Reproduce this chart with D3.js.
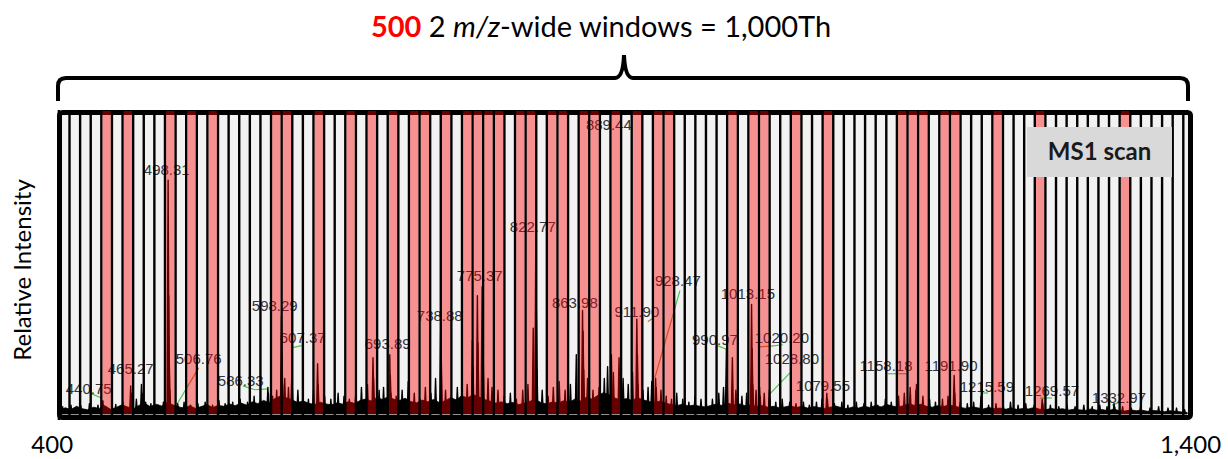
<!DOCTYPE html>
<html>
<head>
<meta charset="utf-8">
<script src="https://cdn.jsdelivr.net/npm/d3@7"></script>
<style>
  body { margin: 0; background: #fff; }
  svg { display: block; }
</style>
</head>
<body>
<div id="chart"></div>
<script>
// ---- data ----
// x axis ticks (m/z)
var tickValues = [400, 1400];

// isolation windows drawn as stripes; these ones are highlighted red
var windowCount = 106;
var redWindows = [4, 6, 10, 12, 14, 20, 21, 24, 27, 29, 31, 33, 34, 36, 38, 39, 40, 41, 43, 44,
  46, 47, 49, 50, 52, 54, 56, 57, 63, 65, 66, 69, 72, 79, 80, 81, 83, 84, 88, 92, 100];

// baseline noise, relative intensity (%) every 5 m/z starting at 402.5
var noise = [
  1.2, 2.1, 1.5, 2.6, 1.8, 1.4, 2.3, 1.9, 2.8, 1.6, 2.2, 3.1, 2.4, 1.7, 2.9, 3.6, 2.5, 3.3, 2.7, 3.9,
  3.1, 2.4, 2.0, 2.8, 1.9, 2.5, 3.2, 2.2, 2.9, 2.6, 3.4, 2.8, 3.7, 3.0, 4.1, 3.5, 4.6, 3.8, 5.2, 6.1,
  5.5, 4.8, 3.9, 4.4, 3.6, 3.2, 4.0, 3.4, 3.1, 3.8, 3.3, 4.2, 3.6, 4.5, 5.1, 4.4, 5.6, 4.9, 5.8, 5.0,
  4.6, 5.3, 4.2, 3.8, 4.7, 4.1, 4.9, 3.9, 4.4, 5.5, 4.8, 6.2, 5.4, 6.6, 5.8, 4.9, 4.3, 3.7, 4.1, 3.5,
  3.9, 3.2, 3.6, 4.3, 4.9, 3.8, 3.4, 4.1, 3.7, 4.5, 4.0, 5.1, 4.4, 5.7, 5.0, 6.3, 7.2, 6.5, 5.4, 4.7,
  5.2, 4.6, 5.5, 4.8, 4.2, 3.9, 4.4, 3.6, 3.2, 2.9, 3.3, 2.7, 3.0, 2.6, 2.4, 2.9, 3.4, 2.8, 3.6, 3.1,
  3.4, 2.8, 3.1, 2.5, 2.9, 2.3, 2.6, 2.1, 2.4, 2.8, 2.2, 2.6, 2.0, 2.5, 2.2, 1.9, 2.3, 2.7, 2.1, 1.8,
  2.4, 2.0, 2.6, 2.2, 2.9, 2.4, 3.2, 2.7, 2.3, 2.9, 3.5, 2.8, 3.3, 2.6, 2.3, 2.8, 2.5, 3.1, 2.6, 2.2,
  1.9, 2.4, 2.1, 1.7, 2.2, 1.8, 2.0, 1.6, 2.1, 1.5, 1.9, 1.7, 2.2, 1.6, 1.4, 1.9, 1.5, 1.8, 1.3, 1.6,
  1.4, 1.2, 1.7, 1.3, 1.5, 1.1, 1.6, 1.2, 1.0, 1.4, 1.1, 1.3, 0.9, 1.2, 1.0, 0.8, 1.1, 0.9, 0.7, 0.5
];

// centroid peaks: m/z and relative intensity (%)
var peakMz = [
  405.2, 412.6, 421.3, 428.9, 436.4, 440.75, 441.3, 452.1, 458.4, 465.27, 465.77, 466.27, 470.3, 474.8, 475.3,
  478.5, 483.1, 489.6, 494.2, 498.31, 498.81, 499.31, 499.8, 506.76, 507.3, 512.4, 518.2, 524.6, 531.0, 537.5,
  543.2, 548.6, 555.3, 561.9, 568.4, 574.2, 579.8, 586.33, 586.83, 590.5, 594.1, 598.29, 598.79, 599.29, 601.2,
  604.5, 607.37, 607.87, 612.8, 617.3, 622.1, 626.6, 630.2, 630.7, 636.4, 641.9, 648.3, 653.5, 658.2, 663.7,
  668.9, 674.2, 679.1, 679.6, 684.5, 688.4, 693.89, 694.39, 694.89, 699.6, 704.8, 710.2, 715.5, 720.6, 725.3,
  730.2, 734.3, 738.88, 739.38, 743.1, 748.2, 753.5, 757.4, 762.2, 766.8, 767.3, 771.2, 771.7, 775.37, 775.87,
  776.37, 780.6, 784.1, 789.4, 794.8, 800.3, 805.6, 811.2, 815.8, 820.5, 822.77, 823.27, 823.77, 828.4, 833.6,
  838.2, 843.4, 848.6, 853.3, 858.5, 863.98, 864.48, 864.98, 868.4, 873.2, 878.6, 883.2, 886.1, 889.44, 891.2,
  896.2, 899.8, 904.3, 908.1, 911.90, 912.4, 912.9, 917.3, 921.8, 925.1, 928.47, 928.97, 933.2, 937.8, 942.5,
  947.1, 952.4, 957.8, 963.2, 968.5, 973.1, 978.6, 984.2, 988.4, 990.97, 991.47, 996.2, 999.3, 1004.6, 1008.8,
  1013.15, 1013.65, 1014.15, 1017.1, 1020.20, 1020.7, 1024.3, 1028.80, 1029.3, 1034.5, 1040.2, 1046.8, 1052.3, 1058.9, 1064.1,
  1070.4, 1075.3, 1079.55, 1080.05, 1086.2, 1092.8, 1098.1, 1105.6, 1112.3, 1118.7, 1124.5, 1131.2, 1136.4, 1142.8, 1147.9,
  1153.1, 1158.18, 1158.68, 1164.3, 1170.2, 1175.4, 1181.6, 1186.5, 1191.90, 1192.4, 1197.3, 1203.5, 1209.1, 1215.59, 1216.09,
  1222.3, 1228.8, 1235.2, 1241.6, 1248.3, 1255.1, 1262.4, 1269.57, 1270.07, 1276.8, 1284.2, 1291.5, 1298.6, 1306.3, 1313.7,
  1320.4, 1326.8, 1332.97, 1333.47, 1340.5, 1348.2, 1356.4, 1364.7, 1372.3, 1380.6, 1388.1, 1395.2
];
var peakInt = [
  2.5, 3, 2.8, 3.5, 3, 4.5, 3, 3.2, 4, 9.5, 7, 4, 5, 10, 7,
  4, 3.5, 3, 4, 79, 40, 18, 8, 3.5, 2.5, 4, 3, 3.5, 4, 3,
  4.5, 3.5, 4, 5, 4, 6, 5, 9, 7, 6, 8, 33, 20, 10, 12,
  9, 12, 9, 8, 6, 5, 8, 17, 10, 6, 5, 7, 6, 5, 6,
  9, 10, 19, 12, 8, 9, 20, 13, 7, 6, 8, 11, 7, 5, 9,
  7, 12, 30, 18, 8, 6, 9, 7, 10, 25, 16, 40, 24, 43, 30,
  18, 12, 9, 8, 6, 7, 5, 8, 10, 29, 60, 35, 15, 8, 6,
  9, 11, 8, 10, 20, 35, 28, 15, 12, 8, 9, 12, 16, 20, 14,
  19, 12, 10, 14, 32, 20, 10, 8, 9, 11, 12, 9, 8, 6, 5,
  7, 5, 4, 6, 5, 4, 5, 7, 9, 22, 13, 19, 8, 6, 7,
  37, 22, 10, 8, 9, 6, 7, 8, 5, 4, 5, 4, 3.5, 4, 3,
  4, 5, 7, 5, 3.5, 4, 3, 4, 3.5, 4, 3, 5, 4, 6, 7,
  9, 8, 10, 6, 5, 4, 5, 6, 13, 7, 4, 3.5, 4, 6, 4,
  3, 3.5, 3, 4, 3, 3.5, 3, 5, 3.5, 3, 2.5, 3, 2.5, 3, 2.5,
  3, 2.5, 3.5, 2.5, 2.5, 2, 2.5, 2, 2.5, 2, 2, 1.5
];

// peak annotations and where their text sits (m/z, intensity %)
var labelText = ["440.75", "465.27", "498.31", "506.76", "586.33", "598.29", "607.37", "693.89", "738.88",
  "775.37", "822.77", "863.98", "889.44", "911.90", "928.47", "990.97", "1013.15", "1020.20", "1028.80",
  "1079.55", "1158.18", "1191.90", "1215.59", "1269.57", "1332.97"];
var labelMz = [428.2, 465.3, 497.1, 525.3, 562.4, 592.4, 617.1, 692.1, 738.0,
  773.3, 820.1, 857.2, 887.2, 911.9, 948.1, 980.8, 1009.9, 1039.9, 1048.7,
  1076.1, 1131.7, 1189.1, 1220.8, 1278.2, 1337.3];
var labelInt = [6.8, 13.6, 80.7, 16.9, 9.5, 34.9, 24.1, 22, 31.5,
  45.1, 61.4, 35.9, 95.9, 32.9, 43.1, 23.4, 39, 24.1, 16.9,
  7.8, 14.6, 14.6, 7.5, 6.1, 3.7];

// leader lines: [mz1, int1, mz2, int2, kind]
var leaders = [
  [430.9, 6.8, 439.7, 5.4, "g"],
  [525.3, 15.6, 517.4, 10.5, "o"],
  [517.4, 10.5, 506.8, 3.7, "g"],
  [564.2, 9.5, 575.0, 8.2, "g"],
  [575.0, 8.2, 586.2, 8.5, "g"],
  [608.3, 22.4, 616.2, 23.1, "g"],
  [925.2, 32.2, 921.6, 31.2, "o"],
  [949.9, 41.7, 942.8, 32.2, "g"],
  [942.8, 32.2, 927.8, 12.2, "o"],
  [983.4, 23.0, 992.2, 21.7, "g"],
  [1020.5, 22.7, 1030.5, 22.9, "o"],
  [1030.5, 22.9, 1040.8, 23.4, "g"],
  [1047.0, 13.9, 1029.3, 6.8, "g"],
  [1133.4, 13.6, 1150.2, 13.6, "g"],
  [1216.4, 7.1, 1221.7, 7.1, "g"],
  [1267.6, 5.4, 1278.2, 5.4, "g"],
  [1331.2, 3.0, 1338.2, 4.0, "g"]
];

// ---- layout ----
var W = 1228, H = 459;
var frame = {left: 57, right: 1193, top: 110, bottom: 420};

var svg = d3.select("#chart").append("svg")
    .attr("width", W)
    .attr("height", H);

var x = d3.scaleLinear().domain([400, 1400]).range([56.7, 1190]);
var y = d3.scaleLinear().domain([0, 100]).range([414, 118]);

var band = d3.scaleBand()
    .domain(d3.range(windowCount))
    .range([58.9, 1183.3])
    .paddingInner(0);

var inner = svg.append("g");

// gray window background
inner.append("rect")
    .attr("x", frame.left)
    .attr("y", frame.top)
    .attr("width", frame.right - frame.left)
    .attr("height", frame.bottom - frame.top)
    .attr("fill", "#f2f2f2");

// leader lines
inner.selectAll("line.leader")
    .data(leaders)
  .enter().append("line")
    .attr("x1", function(d) { return x(d[0]); })
    .attr("y1", function(d) { return y(d[1]); })
    .attr("x2", function(d) { return x(d[2]); })
    .attr("y2", function(d) { return y(d[3]); })
    .attr("stroke", function(d) { return d[4] == "g" ? "#4fc24f" : "#c07a30"; })
    .attr("stroke-width", 1.2);

// peak labels
inner.selectAll("text.lab")
    .data(labelText)
  .enter().append("text")
    .attr("x", function(d, i) { return x(labelMz[i]); })
    .attr("y", function(d, i) { return y(labelInt[i]); })
    .attr("text-anchor", "middle")
    .attr("font-family", "Liberation Sans, Arial, sans-serif")
    .attr("font-size", 15)
    .attr("fill", "#33333d")
    .text(function(d) { return d; });

// window separators
var edges = d3.range(windowCount + 1).map(function(i) { return band.range()[0] + i * band.step(); });
inner.selectAll("line.sep")
    .data(edges)
  .enter().append("line")
    .attr("x1", function(d) { return d; })
    .attr("x2", function(d) { return d; })
    .attr("y1", frame.top)
    .attr("y2", frame.bottom)
    .attr("stroke", "#000")
    .attr("stroke-width", 2.4);

// spectrum: noise floor
var noiseData = noise.map(function(v, i) { return {mz: 402.5 + i * 5, v: v}; });
inner.append("path")
    .datum(noiseData)
    .attr("fill", "#000")
    .attr("stroke", "#000")
    .attr("stroke-width", 0.8)
    .attr("d", d3.area()
        .x(function(d) { return x(d.mz); })
        .y0(y(0))
        .y1(function(d) { return y(d.v); }));

// spectrum: peaks
var peaks = peakMz.map(function(m, i) { return {mz: m, v: peakInt[i]}; });
var peakLine = d3.line();
inner.selectAll("path.peak")
    .data(peaks)
  .enter().append("path")
    .attr("class", "peak")
    .attr("fill", "#000")
    .attr("stroke", "#000")
    .attr("stroke-width", 1.4)
    .attr("stroke-linejoin", "round")
    .attr("d", function(d) {
        return peakLine([[x(d.mz - 0.9), y(0)], [x(d.mz), y(d.v)], [x(d.mz + 0.9), y(0)]]);
    });

// frame
svg.append("rect")
    .attr("x", frame.left + 2.5)
    .attr("y", frame.top + 2.5)
    .attr("width", frame.right - frame.left - 5)
    .attr("height", frame.bottom - frame.top - 5)
    .attr("rx", 3)
    .attr("fill", "none")
    .attr("stroke", "#000")
    .attr("stroke-width", 5);

// red (selected) windows, drawn see-through over spectrum
svg.selectAll("rect.red")
    .data(redWindows)
  .enter().append("rect")
    .attr("x", function(d) { return band(d) + 1.2; })
    .attr("y", frame.top + 1)
    .attr("width", band.bandwidth() - 2.4)
    .attr("height", frame.bottom - frame.top - 7)
    .attr("fill", "#ff0000")
    .attr("fill-opacity", 0.4);

// MS1 scan box
svg.append("rect")
    .attr("x", 1027)
    .attr("y", 127)
    .attr("width", 145)
    .attr("height", 50)
    .attr("fill", "#d9d9d9");
svg.append("text")
    .attr("x", 1099.5)
    .attr("y", 160)
    .attr("text-anchor", "middle")
    .attr("font-family", "Lato, sans-serif")
    .attr("font-weight", "bold")
    .attr("font-size", 24)
    .attr("fill", "#1a1a1a")
    .text("MS1 scan");

// title
var title = svg.append("text")
    .attr("x", 601)
    .attr("y", 37)
    .attr("text-anchor", "middle")
    .attr("font-family", "Lato, sans-serif")
    .attr("font-size", 29)
    .attr("fill", "#000");
title.append("tspan").attr("fill", "#ff0000").attr("font-weight", "bold").text("500");
title.append("tspan").text(" 2 ");
title.append("tspan").attr("font-style", "italic").text("m/z");
title.append("tspan").text("-wide windows = 1,000Th");

// brace
svg.append("path")
    .attr("d", "M58,101 V86 Q58,78 66,78 H615 Q623,78 624,55 Q625,78 633,78 H1180 Q1188,78 1188,86 V101")
    .attr("fill", "none")
    .attr("stroke", "#000")
    .attr("stroke-width", 4);

// x axis (ticks only as labels)
var xAxis = svg.append("g")
    .attr("transform", "translate(0," + frame.bottom + ")")
    .call(d3.axisBottom(x).tickValues(tickValues).tickSize(0).tickFormat(d3.format(",")));
xAxis.select(".domain").remove();
xAxis.selectAll("text")
    .attr("y", 33)
    .attr("dy", 0)
    .attr("font-family", "Lato, sans-serif")
    .attr("font-size", 24)
    .attr("fill", "#000");
xAxis.selectAll(".tick").filter(function(d) { return d == 400; })
    .select("text").attr("dx", -5);

// y label
svg.append("text")
    .attr("transform", "translate(31,270) rotate(-90)")
    .attr("text-anchor", "middle")
    .attr("font-family", "Lato, sans-serif")
    .attr("font-size", 24)
    .attr("fill", "#000")
    .text("Relative Intensity");
</script>
</body>
</html>
